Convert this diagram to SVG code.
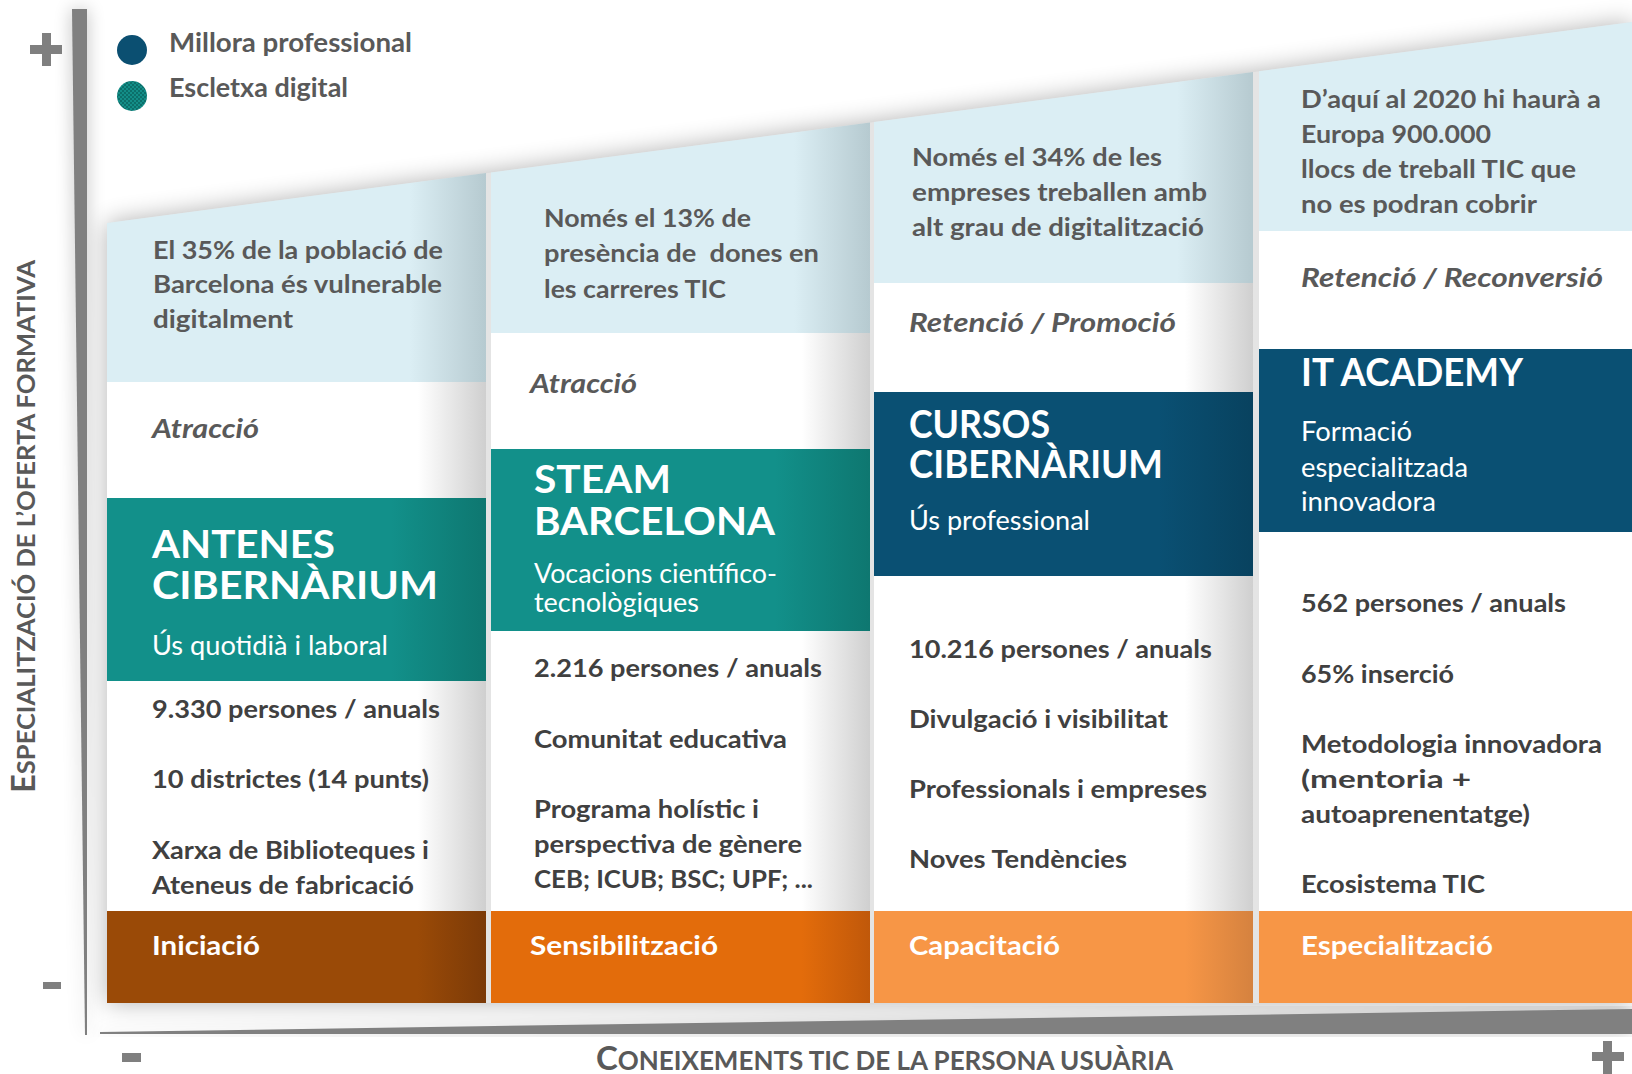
<svg xmlns="http://www.w3.org/2000/svg" width="1632" height="1074" viewBox="0 0 1632 1074">
<style>
text{font-family:Lato,"Liberation Sans",sans-serif}
.lb{font-weight:700;font-size:24px;fill:#595959}
.it{font-weight:700;font-style:italic;font-size:26px;fill:#595959}
.tt{font-weight:700;font-size:39px;fill:#fff}
.st{font-weight:400;font-size:26px;fill:#fff}
.bd{font-weight:700;font-size:25px;fill:#404040}
.ph{font-weight:700;font-size:26px;fill:#fff}
.lg{font-weight:700;font-size:26px;fill:#595959}
.ax{font-weight:700;fill:#595959}
.mk{fill:#7f7f7f}
</style>
<defs>
<filter id="sh" x="-10%" y="-20%" width="120%" height="140%"><feGaussianBlur stdDeviation="12"/></filter>
<filter id="sh2" x="-200%" y="-10%" width="500%" height="120%"><feGaussianBlur stdDeviation="9"/></filter>
<linearGradient id="gLB" x1="0" x2="1" y1="0" y2="0"><stop offset="0" stop-color="#dbeef4"/><stop offset="0.8" stop-color="#dbeef4"/><stop offset="1" stop-color="#b6cad0"/></linearGradient>
<linearGradient id="gW" x1="0" x2="1" y1="0" y2="0"><stop offset="0" stop-color="#fff"/><stop offset="0.82" stop-color="#fff"/><stop offset="1" stop-color="#cfcfcf"/></linearGradient>
<linearGradient id="gT" x1="0" x2="1" y1="0" y2="0"><stop offset="0" stop-color="#12908a"/><stop offset="0.75" stop-color="#12908a"/><stop offset="1" stop-color="#0e7770"/></linearGradient>
<linearGradient id="gN" x1="0" x2="1" y1="0" y2="0"><stop offset="0" stop-color="#0a5073"/><stop offset="0.75" stop-color="#0a5073"/><stop offset="1" stop-color="#08425f"/></linearGradient>
<linearGradient id="gO1" x1="0" x2="1" y1="0" y2="0"><stop offset="0" stop-color="#9a4a07"/><stop offset="0.82" stop-color="#9a4a07"/><stop offset="1" stop-color="#7b3a08"/></linearGradient>
<linearGradient id="gO2" x1="0" x2="1" y1="0" y2="0"><stop offset="0" stop-color="#e36c0b"/><stop offset="0.82" stop-color="#e36c0b"/><stop offset="1" stop-color="#c0580a"/></linearGradient>
<linearGradient id="gO3" x1="0" x2="1" y1="0" y2="0"><stop offset="0" stop-color="#f79646"/><stop offset="0.82" stop-color="#f79646"/><stop offset="1" stop-color="#d5823f"/></linearGradient>
<pattern id="dots" width="4" height="4" patternUnits="userSpaceOnUse"><rect width="4" height="4" fill="#138e88"/><rect width="2" height="2" fill="#0c6f6a"/><rect x="2" y="2" width="2" height="2" fill="#0c6f6a"/></pattern>
</defs>

<!-- shadows -->
<polygon points="107,223 1632,22 1632,1003 107,1003" fill="#000" opacity="0.3" filter="url(#sh)"/>
<polygon points="72,9 87,9 87,1035 85,1035" fill="#000" opacity="0.25" filter="url(#sh2)"/>
<polygon points="100,1032 1632,1009 1632,1034 100,1034" fill="#000" opacity="0.2" filter="url(#sh2)"/>
<polygon points="107,223 1632,22 1632,1003 107,1003" fill="#e4e4e4"/>

<g id="axes">
<polygon points="72,9 87,9 87,1035 85,1035" fill="#808080"/>
<polygon points="100,1032 1632,1009 1632,1034 100,1034" fill="#808080"/>
<rect class="mk" x="30" y="45" width="32" height="9"/>
<rect class="mk" x="42" y="33" width="9" height="33"/>
<rect class="mk" x="43" y="982" width="18" height="7"/>
<rect class="mk" x="122" y="1053" width="19" height="9"/>
<rect class="mk" x="1592" y="1052" width="32" height="9"/>
<rect class="mk" x="1603" y="1041" width="9" height="33"/>
<text class="ax" transform="translate(35,793) rotate(-90)" font-size="32" textLength="533" lengthAdjust="spacingAndGlyphs">E<tspan font-size="25">SPECIALITZACIÓ DE L’OFERTA FORMATIVA</tspan></text>
<text class="ax" x="596" y="1070" font-size="33" textLength="577" lengthAdjust="spacingAndGlyphs">C<tspan font-size="26">ONEIXEMENTS TIC DE LA PERSONA USUÀRIA</tspan></text>
</g>

<g id="legend">
<circle cx="132" cy="50" r="15" fill="#0b4f71"/>
<circle cx="132" cy="96" r="15" fill="url(#dots)"/>
<text class="lg" x="169" y="52" textLength="243" lengthAdjust="spacingAndGlyphs">Millora professional</text>
<text class="lg" x="169" y="97" textLength="179" lengthAdjust="spacingAndGlyphs">Escletxa digital</text>
</g>

<g id="col-antenes">
<polygon points="107,223 486,173 486,382 107,382" fill="url(#gLB)"/>
<rect x="107" y="382" width="379" height="529" fill="url(#gW)"/>
<rect x="107" y="498" width="379" height="183" fill="url(#gT)"/>
<rect x="107" y="911" width="379" height="92" fill="url(#gO1)"/>
<text class="lb" x="153" y="259" textLength="290" lengthAdjust="spacingAndGlyphs">El 35% de la població de</text>
<text class="lb" x="153" y="293" textLength="289" lengthAdjust="spacingAndGlyphs">Barcelona és vulnerable</text>
<text class="lb" x="153" y="328" textLength="140" lengthAdjust="spacingAndGlyphs">digitalment</text>
<text class="it" x="152" y="438" textLength="107" lengthAdjust="spacingAndGlyphs">Atracció</text>
<text class="tt"><tspan x="152" y="558" textLength="183" lengthAdjust="spacingAndGlyphs">ANTENES</tspan><tspan x="152" y="599" textLength="286" lengthAdjust="spacingAndGlyphs">CIBERNÀRIUM</tspan></text>
<text class="st" x="152" y="655" textLength="236" lengthAdjust="spacingAndGlyphs">Ús quotidià i laboral</text>
<text class="bd" x="152" y="718" textLength="288" lengthAdjust="spacingAndGlyphs">9.330 persones / anuals</text>
<text class="bd" x="152" y="788" textLength="277" lengthAdjust="spacingAndGlyphs">10 districtes (14 punts)</text>
<text class="bd" x="152" y="859" textLength="277" lengthAdjust="spacingAndGlyphs">Xarxa de Biblioteques i</text>
<text class="bd" x="152" y="894" textLength="262" lengthAdjust="spacingAndGlyphs">Ateneus de fabricació</text>
<text class="ph" x="152" y="955" textLength="108" lengthAdjust="spacingAndGlyphs">Iniciació</text>
</g>

<g id="col-steam">
<polygon points="491,172.4 870,122.4 870,333 491,333" fill="url(#gLB)"/>
<rect x="491" y="333" width="379" height="578" fill="url(#gW)"/>
<rect x="491" y="449" width="379" height="182" fill="url(#gT)"/>
<rect x="491" y="911" width="379" height="92" fill="url(#gO2)"/>
<text class="lb" x="544" y="227" textLength="207" lengthAdjust="spacingAndGlyphs">Només el 13% de</text>
<text class="lb" x="544" y="262" textLength="275" lengthAdjust="spacingAndGlyphs" xml:space="preserve">presència de  dones en</text>
<text class="lb" x="544" y="298" textLength="182" lengthAdjust="spacingAndGlyphs">les carreres TIC</text>
<text class="it" x="530" y="393" textLength="107" lengthAdjust="spacingAndGlyphs">Atracció</text>
<text class="tt"><tspan x="534" y="493" textLength="137" lengthAdjust="spacingAndGlyphs">STEAM</tspan><tspan x="534" y="535" textLength="241" lengthAdjust="spacingAndGlyphs">BARCELONA</tspan></text>
<text class="st"><tspan x="534" y="583" textLength="243" lengthAdjust="spacingAndGlyphs">Vocacions científico-</tspan><tspan x="534" y="612" textLength="165" lengthAdjust="spacingAndGlyphs">tecnològiques</tspan></text>
<text class="bd" x="534" y="677" textLength="288" lengthAdjust="spacingAndGlyphs">2.216 persones / anuals</text>
<text class="bd" x="534" y="748" textLength="253" lengthAdjust="spacingAndGlyphs">Comunitat educativa</text>
<text class="bd" x="534" y="818" textLength="225" lengthAdjust="spacingAndGlyphs">Programa holístic i</text>
<text class="bd" x="534" y="853" textLength="268" lengthAdjust="spacingAndGlyphs">perspectiva de gènere</text>
<text class="bd" x="534" y="888" textLength="279" lengthAdjust="spacingAndGlyphs">CEB; ICUB; BSC; UPF; ...</text>
<text class="ph" x="530" y="955" textLength="188" lengthAdjust="spacingAndGlyphs">Sensibilització</text>
</g>

<g id="col-cursos">
<polygon points="874,121.9 1253,72 1253,283 874,283" fill="url(#gLB)"/>
<rect x="874" y="283" width="379" height="628" fill="url(#gW)"/>
<rect x="874" y="392" width="379" height="184" fill="url(#gN)"/>
<rect x="874" y="911" width="379" height="92" fill="url(#gO3)"/>
<text class="lb" x="912" y="166" textLength="250" lengthAdjust="spacingAndGlyphs">Només el 34% de les</text>
<text class="lb" x="912" y="201" textLength="295" lengthAdjust="spacingAndGlyphs">empreses treballen amb</text>
<text class="lb" x="912" y="236" textLength="292" lengthAdjust="spacingAndGlyphs">alt grau de digitalització</text>
<text class="it" x="909" y="332" textLength="267" lengthAdjust="spacingAndGlyphs">Retenció / Promoció</text>
<text class="tt"><tspan x="909" y="438" textLength="141" lengthAdjust="spacingAndGlyphs">CURSOS</tspan><tspan x="909" y="478" textLength="254" lengthAdjust="spacingAndGlyphs">CIBERNÀRIUM</tspan></text>
<text class="st" x="909" y="530" textLength="181" lengthAdjust="spacingAndGlyphs">Ús professional</text>
<text class="bd" x="909" y="658" textLength="303" lengthAdjust="spacingAndGlyphs">10.216 persones / anuals</text>
<text class="bd" x="909" y="728" textLength="259" lengthAdjust="spacingAndGlyphs">Divulgació i visibilitat</text>
<text class="bd" x="909" y="798" textLength="298" lengthAdjust="spacingAndGlyphs">Professionals i empreses</text>
<text class="bd" x="909" y="868" textLength="218" lengthAdjust="spacingAndGlyphs">Noves Tendències</text>
<text class="ph" x="909" y="955" textLength="151" lengthAdjust="spacingAndGlyphs">Capacitació</text>
</g>

<g id="col-itacademy">
<polygon points="1259,71.2 1632,22 1632,231 1259,231" fill="#dbeef4"/>
<rect x="1259" y="231" width="373" height="680" fill="#fff"/>
<rect x="1259" y="349" width="373" height="183" fill="#0a5073"/>
<rect x="1259" y="911" width="373" height="92" fill="#f79646"/>
<text class="lb" x="1301" y="108" textLength="300" lengthAdjust="spacingAndGlyphs">D’aquí al 2020 hi haurà a</text>
<text class="lb" x="1301" y="143" textLength="190" lengthAdjust="spacingAndGlyphs">Europa 900.000</text>
<text class="lb" x="1301" y="178" textLength="275" lengthAdjust="spacingAndGlyphs">llocs de treball TIC que</text>
<text class="lb" x="1301" y="213" textLength="236" lengthAdjust="spacingAndGlyphs">no es podran cobrir</text>
<text class="it" x="1301" y="287" textLength="302" lengthAdjust="spacingAndGlyphs">Retenció / Reconversió</text>
<text class="tt" x="1301" y="386" textLength="222" lengthAdjust="spacingAndGlyphs">IT ACADEMY</text>
<text class="st" x="1301" y="441" textLength="111" lengthAdjust="spacingAndGlyphs">Formació</text>
<text class="st" x="1301" y="477" textLength="167" lengthAdjust="spacingAndGlyphs">especialitzada</text>
<text class="st" x="1301" y="511" textLength="135" lengthAdjust="spacingAndGlyphs">innovadora</text>
<text class="bd" x="1301" y="612" textLength="265" lengthAdjust="spacingAndGlyphs">562 persones / anuals</text>
<text class="bd" x="1301" y="683" textLength="153" lengthAdjust="spacingAndGlyphs">65% inserció</text>
<text class="bd" x="1301" y="753" textLength="301" lengthAdjust="spacingAndGlyphs">Metodologia innovadora</text>
<text class="bd" x="1301" y="788" textLength="170" lengthAdjust="spacingAndGlyphs">(mentoria +</text>
<text class="bd" x="1301" y="823" textLength="229" lengthAdjust="spacingAndGlyphs">autoaprenentatge)</text>
<text class="bd" x="1301" y="893" textLength="184" lengthAdjust="spacingAndGlyphs">Ecosistema TIC</text>
<text class="ph" x="1301" y="955" textLength="192" lengthAdjust="spacingAndGlyphs">Especialització</text>
</g>
</svg>
